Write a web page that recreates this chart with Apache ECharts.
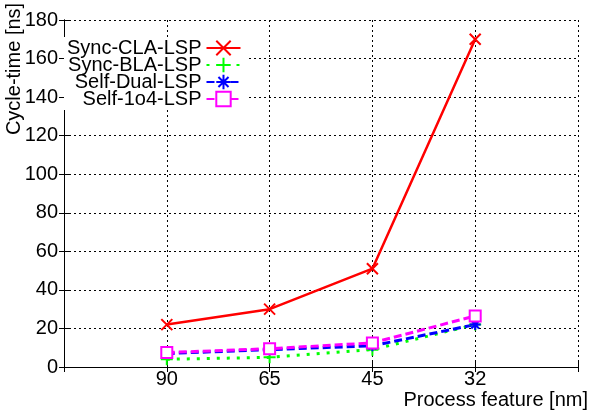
<!DOCTYPE html>
<html>
<head>
<meta charset="utf-8">
<script src="https://cdn.jsdelivr.net/npm/echarts@6/dist/echarts.min.js"></script>
<style>html,body{margin:0;padding:0;background:#fff}#c{width:589px;height:410px}</style>
</head>
<body>
<div id="c"></div>
<script>
const categories = ['90', '65', '45', '32'];
const seriesNames = ['Sync-CLA-LSP', 'Sync-BLA-LSP', 'Self-Dual-LSP', 'Self-1o4-LSP'];
const syncCLA = [22, 30, 51, 170];
const syncBLA = [4, 5, 9, 22];
const selfDual = [7, 9, 11, 22];
const self1o4 = [7.5, 9.5, 12.5, 26.5];
const yTicks = [0, 20, 40, 60, 80, 100, 120, 140, 160, 180];

const FONT = 'Liberation Sans, Arial, sans-serif';
const toPts = arr => arr.map((v, i) => [i + 1, v]);

const chart = echarts.init(document.getElementById('c'), null, {renderer: 'canvas'});
const gridLine = {show: true, lineStyle: {color: '#000', width: 1, type: [2, 3]}};
const axisLine = {show: true, lineStyle: {color: '#000', width: 1}};
const tick = {show: true, inside: true, length: 5, lineStyle: {color: '#000'}};
const labelStyle = {color: '#000', fontSize: 20, fontFamily: FONT};

const X_SYM = 'path://M0,0L10,10M10,0L0,10';
const PLUS_SYM = 'path://M5,0L5,10M0,5L10,5';
const STAR_SYM = 'path://M5,0L5,10M0,5L10,5M1.5,1.5L8.5,8.5M8.5,1.5L1.5,8.5';

chart.setOption({
  animation: false,
  backgroundColor: '#fff',
  textStyle: {fontFamily: FONT},
  grid: {left: 64, right: 11, top: 20, bottom: 43, containLabel: false},
  xAxis: [{
    type: 'value', min: 0, max: 5, interval: 1,
    axisLine: axisLine, axisTick: tick, splitLine: gridLine,
    axisLabel: Object.assign({margin: 2, formatter: v => categories[v - 1] || ''}, labelStyle)
  }, {
    type: 'value', position: 'top', min: 0, max: 5, interval: 1,
    axisLine: axisLine, axisTick: tick, splitLine: {show: false}, axisLabel: {show: false}
  }],
  yAxis: [{
    type: 'value', min: yTicks[0], max: yTicks[yTicks.length - 1], interval: 20,
    axisLine: axisLine, axisTick: tick, splitLine: gridLine,
    axisLabel: Object.assign({margin: 6}, labelStyle)
  }, {
    type: 'value', position: 'right', min: yTicks[0], max: yTicks[yTicks.length - 1], interval: 20,
    axisLine: axisLine, axisTick: tick, splitLine: {show: false}, axisLabel: {show: false}
  }],
  legend: {
    orient: 'vertical', left: 64, top: 37, align: 'right',
    backgroundColor: '#fff', padding: [1, 5, 1, 3],
    itemWidth: 34, itemHeight: 18, itemGap: -3,
    textStyle: {color: '#000', fontSize: 20, fontFamily: FONT, lineHeight: 18},
    data: seriesNames
  },
  series: [{
    name: seriesNames[0], type: 'line', data: toPts(syncCLA),
    symbol: X_SYM, symbolSize: 11,
    lineStyle: {color: '#ff0000', width: 2.5},
    itemStyle: {color: '#ff0000', borderColor: '#ff0000', borderWidth: 2}
  }, {
    name: seriesNames[1], type: 'line', data: toPts(syncBLA),
    symbol: PLUS_SYM, symbolSize: 12,
    lineStyle: {color: '#00ff00', width: 3, type: [3, 7]},
    itemStyle: {color: '#00ff00', borderColor: '#00ff00', borderWidth: 2}
  }, {
    name: seriesNames[2], type: 'line', data: toPts(selfDual),
    symbol: STAR_SYM, symbolSize: 11,
    lineStyle: {color: '#0000ff', width: 3, type: [8, 4]},
    itemStyle: {color: '#0000ff', borderColor: '#0000ff', borderWidth: 2}
  }, {
    name: seriesNames[3], type: 'line', data: toPts(self1o4),
    symbol: 'rect', symbolSize: 11,
    lineStyle: {color: '#ff00ff', width: 3, type: [8, 4]},
    itemStyle: {color: '#ffffff', borderColor: '#ff00ff', borderWidth: 2}
  }],
  graphic: [{
    type: 'text', x: 14, y: 69, rotation: Math.PI / 2,
    style: {text: 'Cycle-time [ns]', fill: '#000', font: '20px ' + FONT, textAlign: 'center', textVerticalAlign: 'middle'}
  }, {
    type: 'text', x: 588, y: 400,
    style: {text: 'Process feature [nm]', fill: '#000', font: '20px ' + FONT, textAlign: 'right', textVerticalAlign: 'middle'}
  }]
});
</script>
</body>
</html>
